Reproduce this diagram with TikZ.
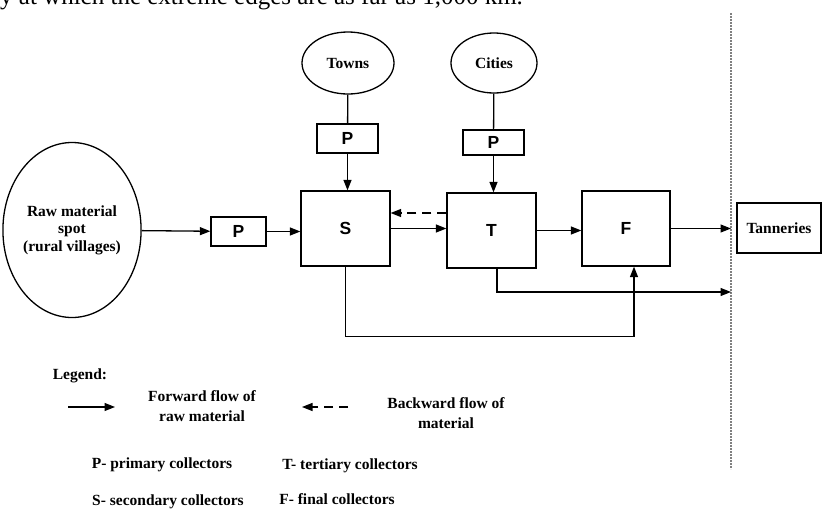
\documentclass[tikz,border=0pt]{standalone}
\usepackage{fontspec}
\setmainfont{Liberation Serif}
\newfontfamily\arialfont{Liberation Sans}
\usetikzlibrary{arrows.meta,shapes.geometric}
\begin{document}
\begin{tikzpicture}[x=1pt,y=-1pt,
  lw/.style={line width=1.3pt},
  box/.style={draw,lw,inner sep=0pt},
  oval/.style={draw,ellipse,lw,inner sep=0pt},
  serifb/.style={font=\bfseries\fontsize{15.5}{17.5}\selectfont},
  sansb/.style={font=\arialfont\bfseries\fontsize{17.5}{19}\selectfont},
  legtxt/.style={font=\bfseries\fontsize{15.5}{19.5}\selectfont,align=center,inner sep=0pt},
  arr/.style={lw,-{Triangle[length=10.5pt,width=8pt]}},
  darr/.style={arr,dash pattern=on 9pt off 6pt},
  divider/.style={gray,line width=1.2pt,dash pattern=on 2pt off 1pt}
]
\useasboundingbox (0,0) rectangle (822,509);
\clip (0,0) rectangle (822,509);

% cut-off text line at the top
\node[anchor=base west,inner sep=0pt,font=\fontsize{25}{28}\selectfont] (toptext) at (0,4.5) {y at which the extreme edges are as far as 1,000 km.};

% divider
\coordinate (dtop) at (731,13);
\coordinate (dbot) at (731,469);
\draw[divider] (dtop) -- (dbot);

% nodes
\node[oval,serifb,align=center,minimum width=129pt,minimum height=175pt] (raw) at (72,230) {Raw material\\spot\\(rural villages)};
\node[box,sansb,minimum width=55pt,minimum height=29pt] (p1) at (238.5,231.5) {P};
\node[oval,serifb,minimum width=92pt,minimum height=62pt] (towns) at (348,63) {Towns};
\node[oval,serifb,minimum width=86pt,minimum height=60pt] (cities) at (494,63) {Cities};
\node[box,sansb,minimum width=61pt,minimum height=29pt] (p2) at (347.5,138.5) {P};
\node[box,sansb,minimum width=61pt,minimum height=25pt] (p3) at (493.5,142.5) {P};
\node[box,sansb,minimum width=89pt,minimum height=75pt] (s) at (345.5,228.5) {S};
\node[box,sansb,minimum width=89pt,minimum height=75pt] (t) at (491.5,230.5) {T};
\node[box,sansb,minimum width=88pt,minimum height=75pt] (f) at (626,228.5) {F};
\node[box,serifb,minimum width=84pt,minimum height=50pt] (tan) at (779,228) {Tanneries};
\coordinate (tc) at (731,292);

% connectors
\draw[arr] (raw) -- (p1);
\draw[arr] (p1.east) -- (p1.east -| s.west);
\draw[lw] (towns) -- (p2);
\draw[arr] (p2.south) -- (p2.south |- s.north);
\draw[lw] (cities) -- (p3);
\draw[arr] (p3.south) -- (p3.south |- t.north);
\draw[darr] ([yshift=17.5pt]t.west) -- ([yshift=15.5pt]s.east);
\draw[arr] (s.east) -- (s.east -| t.west);
\draw[arr] (t.east) -- (t.east -| f.west);
\draw[arr] (f.east) -- (f.east -| dtop);
\draw[arr] ([xshift=5.5pt]t.south) |- (tc);
\draw[arr] (s.south) -- ++(0,70) -| ([xshift=8pt]f.south);

% legend
\node[legtxt] (leg) at (80,376) {Legend:};
\coordinate (fa1) at (68,407);
\coordinate (fa2) at (115,407);
\draw[arr] (fa1) -- (fa2);
\node[legtxt] (fwd) at (202,406) {Forward flow of\\raw material};
\coordinate (ba1) at (348,407);
\coordinate (ba2) at (302,407);
\draw[darr] (ba1) -- (ba2);
\node[legtxt] (bwd) at (446,413) {Backward flow of\\material};
\node[legtxt] (lp) at (162,465) {P- primary collectors};
\node[legtxt] (lt) at (350,466) {T- tertiary collectors};
\node[legtxt] (ls) at (168,502) {S- secondary collectors};
\node[legtxt] (lf) at (337,499) {F- final collectors};
\end{tikzpicture}
\end{document}
